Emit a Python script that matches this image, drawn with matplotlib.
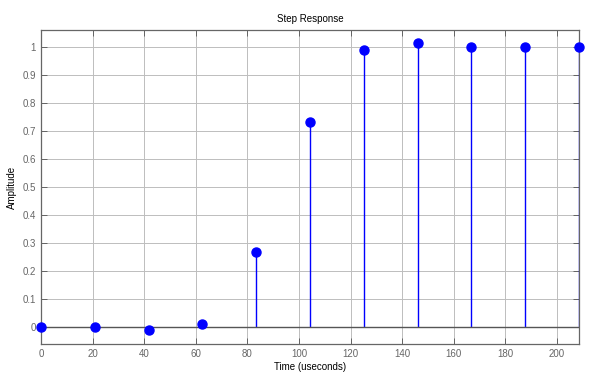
import matplotlib.pyplot as plt
import numpy as np

plt.rcParams['font.family'] = ['Liberation Sans', 'DejaVu Sans']

# sample times (useconds) and step response amplitudes
t = [0, 20.85, 41.7, 62.55, 83.4, 104.25, 125.1, 145.95, 166.8, 187.65, 208.5]
amp = [0.0, 0.0, -0.012, 0.01, 0.268, 0.731, 0.989, 1.011, 1.0, 1.0, 1.0]

fig = plt.figure(figsize=(5.89, 3.74), dpi=100)
ax = fig.add_axes([0.0696, 0.0802, 0.9134, 0.8396])

markers, stems, base = ax.stem(t, amp, linefmt='b-', markerfmt='bo', basefmt='-')
plt.setp(markers, markersize=6.5, color='#0000ff', clip_on=False, zorder=4)
plt.setp(stems, linewidth=1.0, color='#0000ff')
plt.setp(base, color='#555555', linewidth=1.0)
base.set_xdata([-10, 300])

ax.set_xlim(0, 208.5)
ax.set_ylim(-0.062, 1.059)
ax.set_xticks(np.arange(0, 201, 20))
ax.set_yticks(np.arange(0, 1.01, 0.1))
ax.set_yticklabels(['0', '0.1', '0.2', '0.3', '0.4', '0.5', '0.6', '0.7', '0.8', '0.9', '1'])

ax.grid(True, color='#bdbdbd', linewidth=0.7)
ax.set_axisbelow(True)
ax.tick_params(direction='in', top=True, right=True, length=4, width=0.6,
               color='#555555', labelcolor='#666666', labelsize=7)
for s in ax.spines.values():
    s.set_color('#666666')
    s.set_linewidth(0.9)

ax.set_title('Step Response', fontsize=7, pad=6)
ax.set_xlabel('Time (useconds)', fontsize=7, labelpad=2)
ax.set_ylabel('Amplitude', fontsize=7, labelpad=4)

fig.savefig('out.png', dpi=100)
